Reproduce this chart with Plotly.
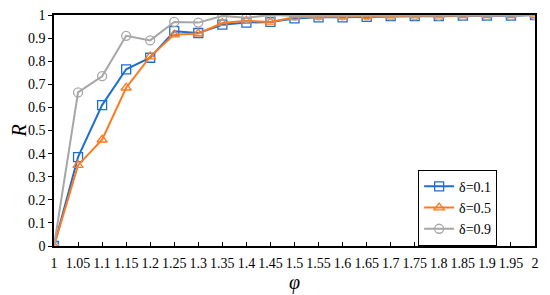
import plotly.graph_objects as go

phi = [1, 1.05, 1.1, 1.15, 1.2, 1.25, 1.3, 1.35, 1.4, 1.45, 1.5,
       1.55, 1.6, 1.65, 1.7, 1.75, 1.8, 1.85, 1.9, 1.95, 2]

r_d01 = [0, 0.385, 0.61, 0.765, 0.815, 0.93, 0.922, 0.958, 0.967, 0.97, 0.985,
         0.99, 0.99, 0.992, 0.995, 0.995, 0.995, 0.997, 0.997, 0.997, 1.0]
r_d05 = [0, 0.35, 0.46, 0.685, 0.82, 0.915, 0.92, 0.965, 0.975, 0.97, 0.99,
         0.993, 0.993, 0.995, 0.997, 0.997, 0.997, 0.998, 0.998, 0.998, 1.0]
r_d09 = [0, 0.665, 0.735, 0.91, 0.89, 0.97, 0.967, 0.996, 0.988, 1.0, 0.997,
         0.998, 0.998, 0.998, 0.998, 0.998, 0.997, 0.998, 0.998, 0.998, 1.0]

names = ['δ=0.1', 'δ=0.5', 'δ=0.9']
colors = ['#1f6fd1', '#ff7a1f', '#a6a6a6']
symbols = ['square-open', 'triangle-up-open', 'circle-open']

fig = go.Figure()
for y, name, c, s in zip([r_d01, r_d05, r_d09], names, colors, symbols):
    fig.add_trace(go.Scatter(
        x=phi, y=y, name=name, mode='lines+markers',
        line=dict(color=c, width=2),
        marker=dict(symbol=s, size=9, color=c, line=dict(width=1.3, color=c))
    ))

serif = 'Liberation Serif, Times New Roman, serif'

# page body has an 8px margin, so the figure is a bit smaller than the window
fig.update_layout(
    width=542, height=287,
    margin=dict(l=46, r=15, t=7, b=49),
    paper_bgcolor='white', plot_bgcolor='white',
    font=dict(family=serif, size=14, color='black'),
    legend=dict(x=0.757, y=0.33, xanchor='left', yanchor='top',
                bordercolor='black', borderwidth=1, bgcolor='white',
                font=dict(family=serif, size=14), tracegroupgap=0,
                itemwidth=30),
    xaxis=dict(
        range=[1, 2], tickvals=phi, ticktext=[f'{v:g}' for v in phi],
        showgrid=False, zeroline=False, showline=True, linecolor='black',
        linewidth=1.5, mirror=True, ticks='inside', ticklen=4,
        tickcolor='black', tickfont=dict(size=14), automargin=False,
        ticklabeloverflow='allow', ticklabelstandoff=3,
        title=dict(text='<i>φ</i>', font=dict(size=20), standoff=2)
    ),
    yaxis=dict(
        range=[0, 1], dtick=0.1, showgrid=False, zeroline=False,
        showline=True, linecolor='black', linewidth=1.5, mirror=True,
        ticks='outside', ticklen=4, tickcolor='black',
        tickfont=dict(size=14), automargin=False,
        ticklabeloverflow='allow',
        title=dict(text='<i>R</i>', font=dict(size=20), standoff=12)
    ),
)

fig.write_html('out.html')
